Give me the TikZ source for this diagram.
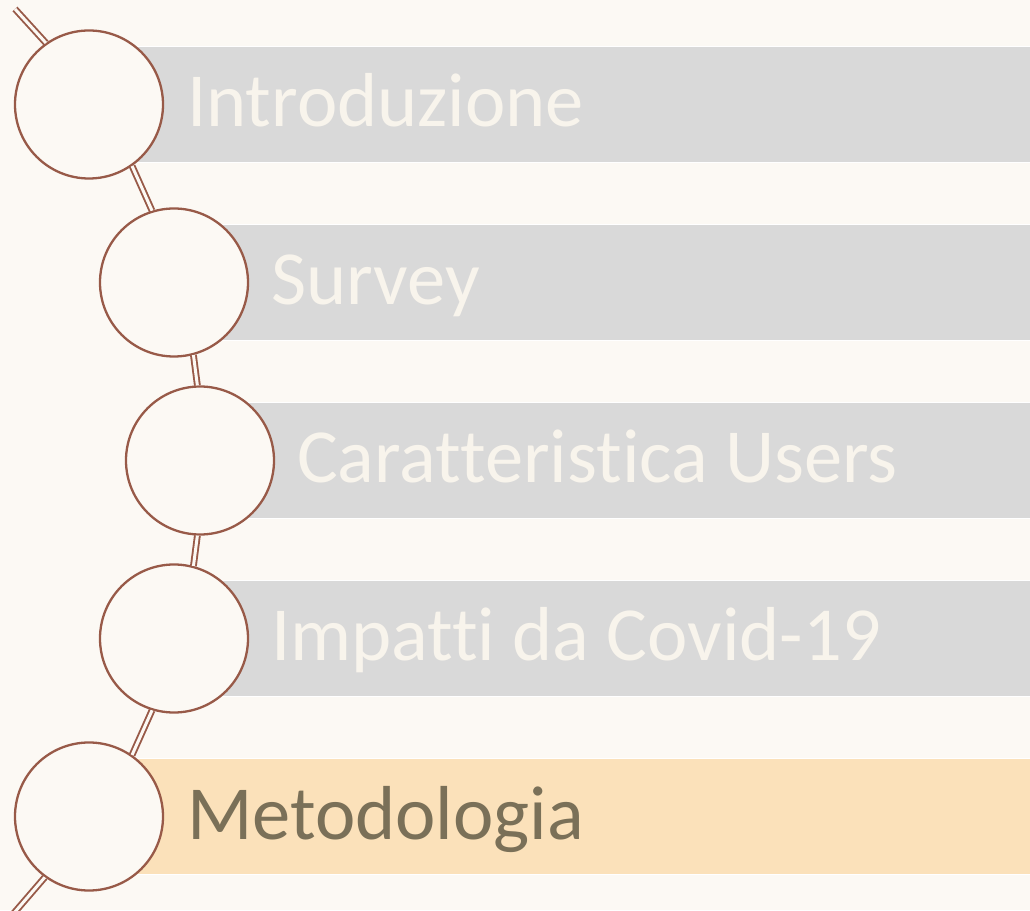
\documentclass[tikz,border=0pt]{standalone}
\usepackage{fontspec}
\setmainfont[Ligatures=NoCommon]{Carlito}
\definecolor{bg}{HTML}{FCF9F4}
\definecolor{barg}{HTML}{D9D9D9}
\definecolor{barh}{HTML}{FBE1BA}
\definecolor{ring}{HTML}{985A48}
\definecolor{txtl}{HTML}{F8F4EC}
\definecolor{txth}{HTML}{7A7058}
\begin{document}
\begin{tikzpicture}[x=1pt,y=1pt,
  barbox/.style={draw=white,line width=1.5pt,inner sep=0pt,minimum height=116pt},
  ringnode/.style={circle,draw=ring,fill=bg,line width=2.3pt,minimum size=148pt,inner sep=0pt},
  link/.style={draw=ring,line width=1.9pt,double=bg,double distance=3pt},
  lbl/.style={anchor=base west,inner sep=0pt,font=\fontsize{76.5}{80}\selectfont,text=txtl}]
\fill[bg] (0,0) rectangle (1030,910);
\useasboundingbox (0,0) rectangle (1030,910);
% bars
\node[barbox,fill=barg,anchor=west,minimum width=941pt] (b1) at (89,805.5) {};
\node[barbox,fill=barg,anchor=west,minimum width=856pt] (b2) at (174,627.5) {};
\node[barbox,fill=barg,anchor=west,minimum width=830pt] (b3) at (200,449.5) {};
\node[barbox,fill=barg,anchor=west,minimum width=856pt] (b4) at (174,271.5) {};
\node[barbox,fill=barh,anchor=west,minimum width=941pt] (b5) at (89,93.5) {};
% labels
\node[lbl] (t1) at (187,783) {Introduzione};
\node[lbl] (t2) at (271,605) {Survey};
\node[lbl] (t3) at (297,427) {Caratteristica Users};
\node[lbl] (t4) at (271,249) {Impatti da Covid-19};
\node[lbl,text=txth] (t5) at (187,71) {Metodologia};
% circles
\coordinate (top) at (15,901);
\coordinate (bot) at (8,-10);
\node[ringnode] (c1) at (89,805.5) {};
\node[ringnode] (c2) at (174,627.5) {};
\node[ringnode] (c3) at (200,449.5) {};
\node[ringnode] (c4) at (174,271.5) {};
\node[ringnode] (c5) at (89,93.5) {};
% connectors
\draw[link] (top) -- (c1.125);
\draw[link] (c1.-55) -- (c2.107);
\draw[link] (c2.-75) -- (c3.92);
\draw[link] (c3.-92) -- (c4.75);
\draw[link] (c4.-107) -- (c5.55);
\draw[link] (c5.-126) -- (bot);
\end{tikzpicture}
\end{document}
